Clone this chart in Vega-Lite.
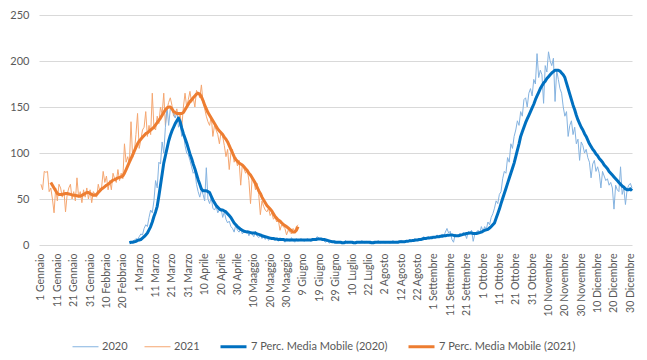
{
"$schema": "https://vega.github.io/schema/vega-lite/v6.json",
"width": 593, "height": 230,
"autosize": {"type": "none"},
"padding": {"left": 39, "top": 15, "right": 15, "bottom": 115},
"background": "white",
"config": {"view": {"stroke": null}, "font": "Lato"},
"data": {"values": [
{"d":0,"c":66},{"d":1,"c":60},{"d":2,"c":80},{"d":3,"c":79},{"d":4,"c":80},{"d":5,"c":58},
{"d":6,"c":62,"e":68},{"d":7,"c":50,"e":65},{"d":8,"c":35,"e":62},{"d":9,"c":62,"e":59},{"d":10,"c":48,"e":56},
{"d":11,"c":66,"e":55},{"d":12,"c":62,"e":55},{"d":13,"c":52,"e":55},{"d":14,"c":60,"e":55.5},{"d":15,"c":36,"e":56},
{"d":16,"c":55,"e":56},{"d":17,"c":62,"e":55.5},{"d":18,"c":66,"e":55},{"d":19,"c":50,"e":54.5},{"d":20,"c":58,"e":54},
{"d":21,"c":48,"e":54},{"d":22,"c":73,"e":53.5},{"d":23,"c":52,"e":53},{"d":24,"c":58,"e":53},{"d":25,"c":46,"e":54},
{"d":26,"c":60,"e":55},{"d":27,"c":52,"e":56},{"d":28,"c":62,"e":57},{"d":29,"c":50,"e":57},{"d":30,"c":60,"e":56},
{"d":31,"c":46,"e":55},{"d":32,"c":58,"e":54},{"d":33,"c":55,"e":54},{"d":34,"c":52,"e":55},{"d":35,"c":66,"e":57},
{"d":36,"c":58,"e":59},{"d":37,"c":62,"e":61},{"d":38,"c":80,"e":62},{"d":39,"c":68,"e":63.5},{"d":40,"c":75,"e":65},
{"d":41,"c":60,"e":66},{"d":42,"c":70,"e":67.5},{"d":43,"c":60,"e":69},{"d":44,"c":78,"e":70.5},{"d":45,"c":72,"e":71},
{"d":46,"c":68,"e":72},{"d":47,"c":82,"e":73},{"d":48,"c":70,"e":73.5},{"d":49,"c":78,"e":74},{"d":50,"c":72,"e":75},
{"d":51,"c":110,"e":78},{"d":52,"c":90,"e":82},{"d":53,"c":96,"e":86},
{"d":54,"a":3,"b":2.5,"c":88,"e":90},{"d":55,"a":2,"b":3,"c":134,"e":94},{"d":56,"a":4,"b":3,"c":95,"e":98},
{"d":57,"a":5,"b":3.5,"c":100,"e":102},{"d":58,"a":7,"b":4,"c":120,"e":106},{"d":59,"a":6,"b":5,"c":143,"e":110},
{"d":60,"a":9,"b":5.5,"c":105,"e":113},{"d":61,"a":12,"b":6,"c":114,"e":115},{"d":62,"a":11,"b":7.5,"c":125,"e":117},
{"d":63,"a":18,"b":9,"c":128,"e":119},{"d":64,"a":22,"b":11,"c":145,"e":121},{"d":65,"a":20,"b":13,"c":118,"e":122},
{"d":66,"a":30,"b":16.5,"c":130,"e":123.5},{"d":67,"a":38,"b":20,"c":120,"e":125},{"d":68,"a":35,"b":25,"c":165,"e":126.5},
{"d":69,"a":48,"b":31,"c":128,"e":128},{"d":70,"a":70,"b":36,"c":125,"e":130.5},{"d":71,"a":62,"b":42,"c":140,"e":133},
{"d":72,"a":90,"b":53,"c":132,"e":135.5},{"d":73,"a":88,"b":65,"c":150,"e":138},{"d":74,"a":112,"b":77,"c":142,"e":141},
{"d":75,"a":100,"b":89,"c":165,"e":144},{"d":76,"a":128,"b":97,"c":130,"e":147},{"d":77,"a":150,"b":105,"c":148,"e":149},
{"d":78,"a":130,"b":113,"c":155,"e":150},{"d":79,"a":148,"b":119,"c":160,"e":150},{"d":80,"a":150,"b":124,"c":152,"e":148},
{"d":81,"a":142,"b":128,"c":140,"e":145},{"d":82,"a":138,"b":132,"c":143,"e":144},{"d":83,"a":145,"b":135,"c":148,"e":143},
{"d":84,"a":128,"b":138,"c":135,"e":143},{"d":85,"a":132,"b":134,"c":142,"e":143},{"d":86,"a":118,"b":127,"c":128,"e":143},
{"d":87,"a":122,"b":121,"c":150,"e":144},{"d":88,"a":108,"b":116,"c":165,"e":147},{"d":89,"a":100,"b":111,"c":150,"e":150},
{"d":90,"a":98,"b":105,"c":158,"e":153},{"d":91,"a":92,"b":99,"c":167,"e":156},{"d":92,"a":85,"b":94,"c":155,"e":158},
{"d":93,"a":78,"b":88,"c":160,"e":160},{"d":94,"a":80,"b":83,"c":150,"e":162},{"d":95,"a":66,"b":77,"c":168,"e":164},
{"d":96,"a":58,"b":71,"c":165,"e":165},{"d":97,"a":52,"b":66,"c":160,"e":164},{"d":98,"a":60,"b":61,"c":174,"e":161},
{"d":99,"a":55,"b":59,"c":155,"e":157},{"d":100,"a":48,"b":59,"c":148,"e":152},{"d":101,"a":84,"b":59,"c":140,"e":148},
{"d":102,"a":50,"b":58,"c":134,"e":144},{"d":103,"a":45,"b":57,"c":130,"e":141},{"d":104,"a":52,"b":53,"c":140,"e":138},
{"d":105,"a":40,"b":49,"c":118,"e":135},{"d":106,"a":38,"b":46,"c":130,"e":132},{"d":107,"a":42,"b":43,"c":125,"e":129},
{"d":108,"a":35,"b":41,"c":120,"e":126},{"d":109,"a":38,"b":39,"c":110,"e":124},{"d":110,"a":40,"b":38,"c":123,"e":122},
{"d":111,"a":30,"b":38,"c":118,"e":120},{"d":112,"a":36,"b":37,"c":108,"e":117},{"d":113,"a":28,"b":36,"c":96,"e":115},
{"d":114,"a":24,"b":34,"c":104,"e":112},{"d":115,"a":26,"b":32,"c":82,"e":108},{"d":116,"a":20,"b":30,"c":100,"e":104},
{"d":117,"a":18,"b":27,"c":104,"e":100},{"d":118,"a":14,"b":24,"c":90,"e":96},{"d":119,"a":22,"b":22,"c":95,"e":93},
{"d":120,"a":16,"b":20,"c":86,"e":91},{"d":121,"a":14,"b":18.5,"c":92,"e":89},{"d":122,"a":18,"b":17,"c":65,"e":88},
{"d":123,"a":12,"b":16,"c":88,"e":87},{"d":124,"a":15,"b":15,"c":83,"e":85},{"d":125,"a":13,"b":14.5,"c":78,"e":83},
{"d":126,"a":16,"b":14,"c":82,"e":81},{"d":127,"a":10,"b":14,"c":70,"e":78},{"d":128,"a":14,"b":13.5,"c":45,"e":76},
{"d":129,"a":12,"b":13,"c":73,"e":73},{"d":130,"a":9,"b":13,"c":70,"e":70},{"d":131,"a":15,"b":13,"c":60,"e":67},
{"d":132,"a":10,"b":12,"c":67,"e":63},{"d":133,"a":8,"b":11.5,"c":55,"e":59},{"d":134,"a":11,"b":11,"c":33,"e":56},
{"d":135,"a":7,"b":10,"c":48,"e":52},{"d":136,"a":10,"b":9.5,"c":42,"e":49},{"d":137,"a":6,"b":9,"c":38,"e":46},
{"d":138,"a":9,"b":8.5,"c":36,"e":43},{"d":139,"a":5,"b":8,"c":40,"e":41},{"d":140,"a":8,"b":7.5,"c":32,"e":39},
{"d":141,"a":6,"b":7,"c":35,"e":37},{"d":142,"a":8,"b":7,"c":28,"e":34},{"d":143,"a":5,"b":6.5,"c":30,"e":31},
{"d":144,"a":7,"b":6.5,"c":25,"e":29},{"d":145,"a":4,"b":6,"c":27,"e":27},{"d":146,"a":8,"b":6,"c":16,"e":26},
{"d":147,"a":5,"b":6,"c":22,"e":24},{"d":148,"a":6,"b":6,"c":20,"e":22.5},{"d":149,"a":3,"b":5.5,"c":18,"e":21},
{"d":150,"a":7,"b":5.5,"c":11,"e":20},{"d":151,"a":6,"b":5.5,"c":16,"e":18.5},{"d":152,"a":4,"b":5.5,"c":14,"e":17},
{"d":153,"a":8,"b":5.5,"c":12,"e":15.5},{"d":154,"a":5,"b":5.5,"c":18,"e":14},{"d":155,"a":3,"b":5.5,"c":15,"e":14},
{"d":156,"a":7,"b":5.5,"c":20,"e":16},{"d":157,"a":4,"b":5.5,"c":22,"e":20},
{"d":158,"a":6,"b":5.5},{"d":159,"a":7,"b":5.5},{"d":160,"a":5,"b":5.5},{"d":161,"a":4,"b":5.5},{"d":162,"a":6,"b":5.5},
{"d":163,"a":7,"b":5.5},{"d":164,"a":5,"b":5.5},{"d":165,"a":4,"b":5.5},{"d":166,"a":7,"b":6},{"d":167,"a":6,"b":6},
{"d":168,"a":8,"b":6},{"d":169,"a":9,"b":6.5},{"d":170,"a":7,"b":6.5},{"d":171,"a":6,"b":6.5},{"d":172,"a":6,"b":6},
{"d":173,"a":4,"b":6},{"d":174,"a":3,"b":5.5},{"d":175,"a":5,"b":5},{"d":176,"a":2,"b":4.5},{"d":177,"a":3,"b":4},
{"d":178,"a":4,"b":3.5},{"d":179,"a":2,"b":3.5},{"d":180,"a":3,"b":3},
{"d":181,"a":2,"b":3},{"d":182,"a":4,"b":3},{"d":183,"a":3,"b":3},{"d":184,"a":1,"b":2.5},{"d":185,"a":3,"b":2.5},
{"d":186,"a":5,"b":3},{"d":187,"a":2,"b":3},{"d":188,"a":3,"b":3},{"d":189,"a":4,"b":3},{"d":190,"a":2,"b":3},
{"d":191,"a":3,"b":2.5},{"d":192,"a":1,"b":2.5},{"d":193,"a":4,"b":3},{"d":194,"a":3,"b":3},{"d":195,"a":2,"b":3},
{"d":196,"a":5,"b":3},{"d":197,"a":3,"b":3},{"d":198,"a":2,"b":3},{"d":199,"a":4,"b":3},{"d":200,"a":3,"b":3},
{"d":201,"a":1,"b":3},{"d":202,"a":3,"b":2.5},{"d":203,"a":4,"b":2.5},{"d":204,"a":2,"b":3},{"d":205,"a":3,"b":3},
{"d":206,"a":5,"b":3},{"d":207,"a":2,"b":3},{"d":208,"a":3,"b":3},{"d":209,"a":4,"b":3},{"d":210,"a":2,"b":3},
{"d":211,"a":3,"b":3},{"d":212,"a":4,"b":3},{"d":213,"a":2,"b":3},{"d":214,"a":3,"b":3},{"d":215,"a":5,"b":3},
{"d":216,"a":3,"b":3},{"d":217,"a":4,"b":3},{"d":218,"a":2,"b":3},{"d":219,"a":4,"b":3.5},{"d":220,"a":5,"b":3.5},
{"d":221,"a":4,"b":3.5},{"d":222,"a":3,"b":3.5},{"d":223,"a":5,"b":4},{"d":224,"a":4,"b":4},{"d":225,"a":6,"b":4.5},
{"d":226,"a":5,"b":4.5},{"d":227,"a":4,"b":5},{"d":228,"a":7,"b":5},{"d":229,"a":6,"b":5.5},{"d":230,"a":5,"b":5.5},
{"d":231,"a":7,"b":6},{"d":232,"a":6,"b":6},{"d":233,"a":8,"b":6.5},{"d":234,"a":9,"b":7},{"d":235,"a":6,"b":7},
{"d":236,"a":8,"b":7.5},{"d":237,"a":9,"b":7.5},{"d":238,"a":7,"b":8},{"d":239,"a":10,"b":8},{"d":240,"a":8,"b":8.5},
{"d":241,"a":9,"b":8.5},{"d":242,"a":11,"b":9},{"d":243,"a":8,"b":9},{"d":244,"a":10,"b":9.5},{"d":245,"a":12,"b":9.5},
{"d":246,"a":9,"b":10},{"d":247,"a":14,"b":10},{"d":248,"a":18,"b":10.5},{"d":249,"a":13,"b":10.5},{"d":250,"a":15,"b":11},
{"d":251,"a":6,"b":11},{"d":252,"a":3,"b":10.5},{"d":253,"a":12,"b":10},{"d":254,"a":9,"b":10},{"d":255,"a":11,"b":10},
{"d":256,"a":13,"b":10.5},{"d":257,"a":10,"b":11},{"d":258,"a":14,"b":11.5},{"d":259,"a":12,"b":12},{"d":260,"a":7,"b":12.5},
{"d":261,"a":15,"b":12.7},{"d":262,"a":13,"b":13},{"d":263,"a":16,"b":13},{"d":264,"a":4,"b":12.5},{"d":265,"a":12,"b":12.5},
{"d":266,"a":14,"b":12.5},{"d":267,"a":16,"b":13},{"d":268,"a":13,"b":13.5},{"d":269,"a":20,"b":14},{"d":270,"a":15,"b":15},
{"d":271,"a":20,"b":16},{"d":272,"a":17,"b":16.5},{"d":273,"a":25,"b":17},{"d":274,"a":22,"b":18.5},{"d":275,"a":30,"b":20},
{"d":276,"a":34,"b":22},{"d":277,"a":40,"b":24},{"d":278,"a":48,"b":29},{"d":279,"a":45,"b":34},{"d":280,"a":55,"b":39},
{"d":281,"a":58,"b":45},{"d":282,"a":72,"b":50.5},{"d":283,"a":80,"b":56},{"d":284,"a":78,"b":61.5},{"d":285,"a":95,"b":67},
{"d":286,"a":90,"b":72.5},{"d":287,"a":110,"b":78},{"d":288,"a":105,"b":83.5},{"d":289,"a":118,"b":89},{"d":290,"a":125,"b":96},
{"d":291,"a":135,"b":103},{"d":292,"a":130,"b":110},{"d":293,"a":145,"b":118},{"d":294,"a":140,"b":123},{"d":295,"a":158,"b":128},
{"d":296,"a":160,"b":133},{"d":297,"a":150,"b":137},{"d":298,"a":165,"b":141},{"d":299,"a":170,"b":145},{"d":300,"a":162,"b":149},
{"d":301,"a":180,"b":153},{"d":302,"a":175,"b":158},{"d":303,"a":208,"b":162},{"d":304,"a":182,"b":166},{"d":305,"a":190,"b":170},
{"d":306,"a":185,"b":173},{"d":307,"a":154,"b":176},{"d":308,"a":195,"b":178},{"d":309,"a":188,"b":181},{"d":310,"a":210,"b":183},
{"d":311,"a":200,"b":185},{"d":312,"a":195,"b":187},{"d":313,"a":203,"b":188.5},{"d":314,"a":156,"b":190},{"d":315,"a":190,"b":190},
{"d":316,"a":180,"b":190},{"d":317,"a":170,"b":189},{"d":318,"a":165,"b":187},{"d":319,"a":150,"b":185},{"d":320,"a":140,"b":182},
{"d":321,"a":145,"b":176},{"d":322,"a":118,"b":170},{"d":323,"a":130,"b":164},{"d":324,"a":135,"b":158},{"d":325,"a":120,"b":152},
{"d":326,"a":128,"b":147},{"d":327,"a":110,"b":141},{"d":328,"a":115,"b":136},{"d":329,"a":92,"b":132},{"d":330,"a":112,"b":128},
{"d":331,"a":108,"b":125},{"d":332,"a":100,"b":121},{"d":333,"a":104,"b":118},{"d":334,"a":95,"b":114},{"d":335,"a":90,"b":110},
{"d":336,"a":73,"b":107},{"d":337,"a":88,"b":104},{"d":338,"a":92,"b":102},{"d":339,"a":80,"b":99},{"d":340,"a":85,"b":97},
{"d":341,"a":78,"b":94},{"d":342,"a":62,"b":92},{"d":343,"a":80,"b":90},{"d":344,"a":75,"b":87},{"d":345,"a":70,"b":85},
{"d":346,"a":72,"b":83},{"d":347,"a":65,"b":80},{"d":348,"a":68,"b":78},{"d":349,"a":62,"b":76},{"d":350,"a":39,"b":74},
{"d":351,"a":65,"b":72},{"d":352,"a":60,"b":70},{"d":353,"a":58,"b":68},{"d":354,"a":85,"b":66},{"d":355,"a":55,"b":64},
{"d":356,"a":62,"b":63},{"d":357,"a":44,"b":61},{"d":358,"a":60,"b":60},{"d":359,"a":65,"b":60},{"d":360,"a":67,"b":61},
{"d":361,"a":62,"b":59}
]},
"transform": [
  {"fold": ["a", "c", "b", "e"], "as": ["k", "v"]},
  {"filter": "isValid(datum.v)"}
],
"encoding": {
  "x": {"field": "d", "type": "quantitative",
    "scale": {"domain": [-1.2, 361], "nice": false, "zero": false},
    "axis": {"title": null, "values": [0,10,20,30,40,50,60,70,80,90,100,110,120,130,140,150,160,170,180,190,200,210,220,230,240,250,260,270,280,290,300,310,320,330,340,350,360],
      "labelExpr": "['1 Gennaio','11 Gennaio','21 Gennaio','31 Gennaio','10 Febbraio','20 Febbraio','1 Marzo','11 Marzo','21 Marzo','31 Marzo','10 Aprile','20 Aprile','30 Aprile','10 Maaggio','20 Maaggio','30 Maaggio','9 Giugno','19 Giugno','29 Giugno','10 Luglio','22 Luglio','2 Agosto','12 Agosto','22 Agosto','1 Settembre','11 Settembre','21 Settembre','1 Ottobre','11 Ottobre','21 Ottobre','31 Ottobre','10 Novembre','20 Novembre','30 Novembre','10 Dicembre','20 Dicembre','30 Dicembre'][round(datum.value/10)]",
      "grid": false, "domain": false, "ticks": false,
      "labelAngle": -90, "labelAlign": "right", "labelBaseline": "middle",
      "labelPadding": 8, "labelColor": "#595959", "labelFontSize": 10.5,
      "labelOverlap": false, "labelBound": false, "labelFlush": false}},
  "y": {"field": "v", "type": "quantitative",
    "scale": {"domain": [0, 250], "nice": false},
    "axis": {"title": null, "values": [0,50,100,150,200,250], "grid": true, "gridColor": "#D9D9D9",
      "domain": false, "ticks": false, "labelColor": "#595959", "labelFontSize": 11, "labelPadding": 10}},
  "color": {"field": "k", "type": "nominal",
    "scale": {"domain": ["a", "c", "b", "e"], "range": ["#85B3E0", "#F5A670", "#0070C0", "#ED7D31"]},
    "legend": {"orient": "none", "direction": "horizontal", "legendX": 33, "legendY": 317, "title": null,
      "symbolType": "stroke", "symbolSize": 676, "labelFontSize": 11, "labelColor": "#595959",
      "labelOffset": 3, "columnPadding": 14,
      "labelExpr": "datum.label == 'a' ? '2020' : datum.label == 'c' ? '2021' : datum.label == 'b' ? '7 Perc. Media Mobile (2020)' : '7 Perc. Media Mobile (2021)'"}},
  "strokeWidth": {"field": "k", "type": "nominal",
    "scale": {"type": "ordinal", "domain": ["a", "c", "b", "e"], "range": [1, 1, 3, 3]},
    "legend": {"orient": "none", "direction": "horizontal", "legendX": 33, "legendY": 317, "title": null,
      "symbolType": "stroke", "symbolSize": 676, "labelFontSize": 11, "labelColor": "#595959",
      "labelOffset": 3, "columnPadding": 14,
      "labelExpr": "datum.label == 'a' ? '2020' : datum.label == 'c' ? '2021' : datum.label == 'b' ? '7 Perc. Media Mobile (2020)' : '7 Perc. Media Mobile (2021)'"}}
},
"layer": [
  {"transform": [{"filter": "datum.k == 'a' || datum.k == 'c'"}], "mark": {"type": "line", "strokeJoin": "round"}},
  {"transform": [{"filter": "datum.k == 'b' || datum.k == 'e'"}], "mark": {"type": "line", "strokeJoin": "round"}}
]
}
